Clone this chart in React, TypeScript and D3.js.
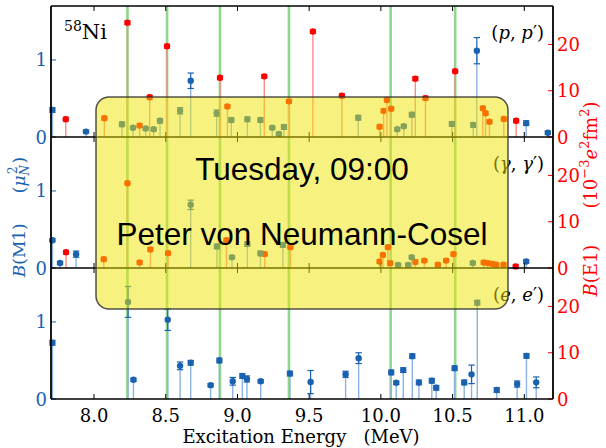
import React from 'react';
import * as d3 from 'd3';

const W = 606;
const H = 448;

const xTicks = [8.0, 8.5, 9.0, 9.5, 10.0, 10.5, 11.0];
const m1Ticks = [0, 1];
const e1Ticks = [0, 10, 20];
const greenLines = [8.233, 8.509, 8.878, 9.359, 10.068, 10.518];

// (p,p') B(M1)
const ppM1E = [7.71, 7.944, 8.195, 8.272, 8.36, 8.416, 8.46, 8.6, 8.674, 8.855, 8.957, 9.069, 9.16, 9.243, 9.289, 9.324, 9.842, 10.114, 10.16, 10.216, 10.495, 10.644, 10.669, 11.013, 11.164];
const ppM1V = [0.35, 0.07, 0.165, 0.12, 0.11, 0.1, 0.21, 0.34, 0.73, 0.31, 0.22, 0.23, 0.22, 0.12, 0.04, 0.13, 0.25, 0.1, 0.14, 0.29, 0.17, 0.155, 1.12, 0.18, 0.056];
const ppM1Err = [0.03, 0.02, 0.03, 0.02, 0.02, 0.02, 0.03, 0.04, 0.1, 0.04, 0.03, 0.03, 0.03, 0.02, 0.02, 0.03, 0.03, 0.02, 0.02, 0.03, 0.03, 0.03, 0.17, 0.03, 0.02];
// (p,p') B(E1)
const ppE1E = [7.803, 8.072, 8.233, 8.318, 8.388, 8.509, 8.878, 8.93, 9.187, 9.359, 9.526, 9.728, 9.991, 10.019, 10.042, 10.072, 10.24, 10.311, 10.518, 10.711, 10.73, 10.757, 10.857, 10.943];
const ppE1V = [3.85, 4.06, 24.7, 2.46, 8.6, 19.6, 12.8, 6.6, 13.1, 7.7, 22.8, 8.9, 2.2, 5.65, 8.0, 6.1, 12.6, 8.4, 14.2, 6.2, 5.15, 3.3, 3.9, 3.5];

// (gamma,gamma') B(M1)
const ggM1E = [7.71, 7.763, 7.875, 8.674, 8.857, 8.962, 9.069, 9.16, 9.317, 10.12, 10.19, 10.215, 10.641, 11.013];
const ggM1V = [0.36, 0.065, 0.18, 0.82, 0.28, 0.14, 0.31, 0.19, 0.3, 0.04, 0.04, 0.14, 0.065, 0.085];
const ggM1Err = [0.02, 0.02, 0.04, 0.06, 0.03, 0.02, 0.03, 0.03, 0.03, 0.02, 0.02, 0.02, 0.02, 0.02];
// (gamma,gamma') B(E1)
const ggE1E = [7.805, 8.068, 8.233, 8.318, 8.393, 8.516, 8.923, 9.19, 9.369, 9.991, 10.014, 10.049, 10.065, 10.24, 10.303, 10.397, 10.455, 10.506, 10.717, 10.746, 10.776, 10.804, 10.855, 10.94];
const ggE1V = [3.4, 1.9, 18.3, 1.2, 4.0, 3.2, 6.0, 3.0, 4.5, 1.4, 2.8, 4.5, 1.06, 1.3, 1.6, 0.7, 1.6, 3.0, 1.2, 1.06, 0.9, 0.7, 0.7, 0.35];

// (e,e') B(M1)
const eeM1E = [7.71, 8.237, 8.275, 8.514, 8.6, 8.674, 8.813, 8.874, 8.967, 9.034, 9.066, 9.162, 9.366, 9.51, 9.754, 9.845, 10.072, 10.107, 10.156, 10.219, 10.265, 10.355, 10.386, 10.514, 10.581, 10.632, 10.672, 10.808, 10.95, 11.015, 11.083];
const eeM1V = [0.73, 1.26, 0.25, 1.03, 0.43, 0.47, 0.18, 0.5, 0.23, 0.3, 0.26, 0.23, 0.33, 0.22, 0.32, 0.53, 0.345, 0.21, 0.375, 0.556, 0.215, 0.237, 0.146, 0.4, 0.215, 0.32, 1.25, 0.116, 0.194, 0.56, 0.216];
const eeM1Err = [0.03, 0.2, 0.02, 0.14, 0.05, 0.03, 0.02, 0.03, 0.05, 0.03, 0.04, 0.02, 0.03, 0.15, 0.04, 0.07, 0.03, 0.02, 0.03, 0.03, 0.03, 0.03, 0.03, 0.03, 0.03, 0.12, 0.03, 0.03, 0.04, 0.03, 0.07];

const RED_ERR = 0.4;

const BLUE = '#1a62b0';
const BLUE_STEM = '#8db3e2';
const RED = '#ff0000';
const RED_STEM = '#ff8a8a';
const GREEN = '#8fd68f';
const SERIF = '"DejaVu Serif", serif';
const SANS = '"Liberation Sans", Arial, sans-serif';

const LEFT = 51;
const RIGHT = 553;
const TOP = 6;
const PH = 131;

type Panel = {
  kind: string;
  m1E: number[]; m1V: number[]; m1Err: number[];
  e1E: number[]; e1V: number[];
};

const panels: Panel[] = [
  { kind: 'p', m1E: ppM1E, m1V: ppM1V, m1Err: ppM1Err, e1E: ppE1E, e1V: ppE1V },
  { kind: 'g', m1E: ggM1E, m1V: ggM1V, m1Err: ggM1Err, e1E: ggE1E, e1V: ggE1V },
  { kind: 'e', m1E: eeM1E, m1V: eeM1V, m1Err: eeM1Err, e1E: [], e1V: [] },
];

function PanelLabel({ kind, x, y }: { kind: string; x: number; y: number }) {
  const sym = kind === 'g' ? 'γ' : kind;
  return (
    <text x={x} y={y} textAnchor="end" fontFamily={SERIF} fontSize={18} fill="#000">
      (<tspan fontStyle="italic">{sym}</tspan>, <tspan fontStyle="italic">{sym}</tspan>′)
    </text>
  );
}

export default function App() {
  const x = d3.scaleLinear().domain([7.7, 11.2]).range([LEFT, RIGHT]);
  const fullTop = TOP;
  const fullBottom = TOP + 3 * PH;

  return (
    <svg width={W} height={H} style={{ position: 'absolute', left: 0, top: 0, background: '#fff' }}>
      <rect x={0} y={0} width={W} height={H} fill="#fff" />
      {greenLines.map((g, i) => (
        <line key={'g' + i} x1={x(g)} x2={x(g)} y1={fullTop} y2={fullBottom} stroke={GREEN} strokeWidth={2.6} />
      ))}
      {panels.map((p, pi) => {
        const top = TOP + pi * PH;
        const bottom = top + PH;
        const yL = d3.scaleLinear().domain([0, 1.7]).range([bottom, top]);
        const yR = d3.scaleLinear().domain([0, 28.3]).range([bottom, top]);
        return (
          <g key={'p' + pi}>
            {p.e1E.map((e, i) => (
              <g key={'r' + i}>
                <line x1={x(e)} x2={x(e)} y1={yR(0)} y2={yR(p.e1V[i])} stroke={RED_STEM} strokeWidth={1.4} />
                <line x1={x(e)} x2={x(e)} y1={yR(p.e1V[i] - RED_ERR)} y2={yR(p.e1V[i] + RED_ERR)} stroke={RED} strokeWidth={1.2} />
                <line x1={x(e) - 3} x2={x(e) + 3} y1={yR(p.e1V[i] - RED_ERR)} y2={yR(p.e1V[i] - RED_ERR)} stroke={RED} strokeWidth={1.2} />
                <line x1={x(e) - 3} x2={x(e) + 3} y1={yR(p.e1V[i] + RED_ERR)} y2={yR(p.e1V[i] + RED_ERR)} stroke={RED} strokeWidth={1.2} />
                <circle cx={x(e)} cy={yR(p.e1V[i])} r={3.2} fill={RED} />
              </g>
            ))}
            {p.m1E.map((e, i) => {
              const v = p.m1V[i];
              const er = p.m1Err[i];
              return (
                <g key={'b' + i}>
                  <line x1={x(e)} x2={x(e)} y1={yL(0)} y2={yL(v)} stroke={BLUE_STEM} strokeWidth={1.4} />
                  <line x1={x(e)} x2={x(e)} y1={yL(v - er)} y2={yL(v + er)} stroke={BLUE} strokeWidth={1.2} />
                  <line x1={x(e) - 3.2} x2={x(e) + 3.2} y1={yL(v - er)} y2={yL(v - er)} stroke={BLUE} strokeWidth={1.2} />
                  <line x1={x(e) - 3.2} x2={x(e) + 3.2} y1={yL(v + er)} y2={yL(v + er)} stroke={BLUE} strokeWidth={1.2} />
                  <circle cx={x(e)} cy={yL(v)} r={3.2} fill={BLUE} />
                </g>
              );
            })}
            {xTicks.map((t, i) => (
              <g key={'xt' + i}>
                <line x1={x(t)} x2={x(t)} y1={top} y2={top + 5} stroke="#000" strokeWidth={1} />
                <line x1={x(t)} x2={x(t)} y1={bottom} y2={bottom - 5} stroke="#000" strokeWidth={1} />
              </g>
            ))}
            {m1Ticks.map((t, i) => (
              <g key={'lt' + i}>
                <line x1={LEFT} x2={LEFT + 5} y1={yL(t)} y2={yL(t)} stroke={BLUE} strokeWidth={1} />
                <text x={47} y={yL(t) + 6.5} textAnchor="end" fontFamily={SERIF} fontSize={18} fill={BLUE}>{t}</text>
              </g>
            ))}
            {e1Ticks.map((t, i) => (
              <g key={'rt' + i}>
                <line x1={RIGHT - 5} x2={RIGHT} y1={yR(t)} y2={yR(t)} stroke={RED} strokeWidth={1} />
                <text x={557} y={yR(t) + 6.5} textAnchor="start" fontFamily={SERIF} fontSize={18} fill={RED}>{t}</text>
              </g>
            ))}
            <line x1={LEFT} x2={RIGHT} y1={bottom} y2={bottom} stroke="#000" strokeWidth={1.6} />
            <PanelLabel kind={p.kind} x={544} y={top + 33} />
          </g>
        );
      })}
      <line x1={LEFT} x2={RIGHT} y1={fullTop} y2={fullTop} stroke="#000" strokeWidth={1.6} />
      <line x1={LEFT} x2={LEFT} y1={fullTop} y2={fullBottom} stroke="#000" strokeWidth={1.8} />
      <line x1={RIGHT} x2={RIGHT} y1={fullTop} y2={fullBottom} stroke="#000" strokeWidth={1.8} />

      <text x={64} y={39} fontFamily={SERIF} fontSize={21} fill="#000">
        <tspan fontSize={14} dy={-8}>58</tspan>
        <tspan dy={8}>Ni</tspan>
      </text>

      {xTicks.map((t, i) => (
        <text key={'xl' + i} x={x(t)} y={422} textAnchor="middle" fontFamily={SERIF} fontSize={18} fill="#000">
          {t.toFixed(1)}
        </text>
      ))}
      <text x={301} y={443} textAnchor="middle" fontFamily={SERIF} fontSize={18} fill="#000" style={{ whiteSpace: 'pre' }}>
        {'Excitation Energy   (MeV)'}
      </text>

      <text transform={`translate(25, 217) rotate(-90)`} textAnchor="middle" fontFamily={SERIF} fontSize={17} fill={BLUE} style={{ whiteSpace: 'pre' }}>
        <tspan fontStyle="italic">B</tspan>
        <tspan>{'(M1)'}</tspan>
        <tspan dx={30}>(</tspan>
        <tspan fontStyle="italic">μ</tspan>
        <tspan fontSize={12} fontStyle="italic" dy={4}>N</tspan>
        <tspan fontSize={12} dx={-9} dy={-12}>2</tspan>
        <tspan dx={3} dy={8}>)</tspan>
      </text>

      <text transform={`translate(597, 199) rotate(-90)`} textAnchor="middle" fontFamily={SERIF} fontSize={18} fill={RED} style={{ whiteSpace: 'pre' }}>
        <tspan fontStyle="italic">B</tspan>
        <tspan>{'(E1)'}</tspan>
        <tspan dx={36}>(10</tspan>
        <tspan fontSize={13} dy={-8}>−3</tspan>
        <tspan fontStyle="italic" dy={8}>e</tspan>
        <tspan fontSize={13} dy={-8}>2</tspan>
        <tspan dy={8}>fm</tspan>
        <tspan fontSize={13} dy={-8}>2</tspan>
        <tspan dy={8}>)</tspan>
      </text>

      <rect x={96} y={97} width={412} height={212} rx={13} ry={13} fill="rgb(240,228,0)" fillOpacity={0.5} stroke="#333" strokeOpacity={0.85} strokeWidth={1.5} />
      <text x={302} y={180} textAnchor="middle" fontFamily={SANS} fontSize={31.5} fill="#000">Tuesday, 09:00</text>
      <text x={302} y={245} textAnchor="middle" fontFamily={SANS} fontSize={31.5} fill="#000">Peter von Neumann-Cosel</text>
    </svg>
  );
}
